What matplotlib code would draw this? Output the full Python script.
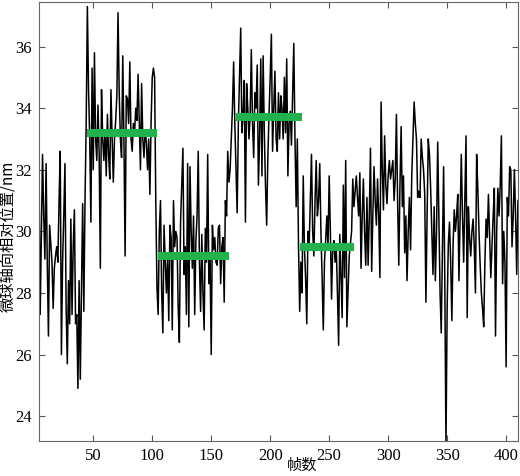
import numpy as np
import matplotlib
matplotlib.use('Agg')
import matplotlib.pyplot as plt

# position trace (frames 4..410)
seg1 = [32.3, 27.3, 30.0, 32.5, 30.5, 29.1, 32.2, 29.0, 26.6, 30.2,
        29.6, 29.0, 27.5, 28.8, 29.2, 29.5, 29.0, 31.0, 32.6, 26.0,
        29.0, 30.5, 32.2, 27.5, 25.7, 28.4, 27.0, 30.4, 27.3, 29.5,
        30.7, 27.0, 27.3, 24.9, 28.4, 25.2, 28.0, 30.9, 27.4, 31.0,
        33.5, 37.3]
seg2 = [34.6, 33.0, 30.3, 35.3, 32.0, 35.8, 33.0, 32.3, 34.1, 32.5,
        28.8, 34.6, 33.0, 32.3, 33.3, 31.8, 33.8, 32.5, 31.7, 34.6,
        33.0, 31.6, 33.0, 33.6, 34.4, 37.1, 34.5, 33.0, 32.4, 35.7,
        33.0, 29.2, 34.4, 34.3, 33.5, 35.5, 33.0, 32.6, 33.5, 33.2,
        34.0, 33.6, 35.1, 33.5, 32.0, 34.8, 33.0, 32.4, 33.3, 32.9,
        32.0, 33.0, 31.2, 33.5, 35.0, 35.3, 35.0, 31.0, 28.2]
seg3 = [27.3, 30.0, 31.0, 28.0, 26.7, 30.2, 29.0, 28.0, 29.2, 27.1,
        30.2, 29.8, 26.8, 31.0, 29.5, 30.0, 29.8, 27.5, 26.4, 30.3,
        31.5, 32.7, 28.6, 29.5, 27.3, 32.2, 26.9, 32.1, 30.0, 28.8,
        30.5, 27.3, 29.7, 30.5, 32.6, 29.0, 27.4, 29.9, 28.0, 26.8,
        30.1, 29.0, 32.5, 28.3, 29.2, 26.0, 30.2, 29.4, 29.8, 29.0,
        28.9, 30.1, 30.2, 28.3, 29.5, 29.8, 27.7, 31.0, 30.5, 32.6, 31.6]
seg4 = [32.0, 33.0, 34.0, 35.5, 33.5, 32.0, 30.6, 33.5, 35.0, 36.6,
        33.2, 33.8, 34.9, 30.3, 34.8, 34.0, 33.0, 33.8, 35.9, 33.5,
        32.4, 34.5, 34.0, 35.4, 31.5, 33.0, 35.6, 31.8, 35.7, 33.2,
        31.5, 30.2, 32.4, 33.8, 35.0, 36.4, 32.6, 34.0, 35.2, 33.0,
        32.6, 34.5, 33.0, 34.4, 34.0, 33.0, 35.0, 33.2, 35.6, 31.8,
        33.5, 33.9, 32.8, 34.5, 36.1, 33.0, 30.8, 33.0, 29.5, 27.4]
seg5 = [29.0, 28.0, 31.8, 29.5, 28.5, 27.0, 30.0, 29.5, 31.0, 32.5,
        30.0, 29.2, 31.0, 32.3, 30.5, 31.0, 32.2, 30.0, 28.5, 26.8,
        29.0, 29.7, 30.5, 29.5, 31.8, 30.0, 27.8, 29.5, 29.7, 29.0,
        29.5, 28.0, 26.3, 29.9, 28.5, 27.2, 31.5, 28.5, 32.3, 26.9,
        28.0, 29.2, 29.6, 30.0, 31.7, 30.8]
seg6 = [31.3, 31.8, 31.1, 30.5, 31.9, 28.8, 30.5, 31.7, 30.0, 28.9,
        31.1, 28.9, 30.5, 32.7, 28.7, 30.5, 32.1, 31.0, 30.2, 31.7,
        30.5, 28.5, 34.2, 32.0, 30.7, 33.1, 31.5, 30.9, 31.8, 32.3,
        31.7, 32.0, 32.3, 31.0, 31.7, 33.8, 31.0, 28.9, 31.5]
seg7 = [33.4, 30.8, 31.8, 29.3, 30.5, 28.4, 30.0, 31.1, 29.4, 31.8,
        33.0, 34.2, 33.5, 33.0, 31.1, 31.3, 31.1, 33.0, 32.4, 32.0,
        31.2, 27.7, 30.5, 33.0, 32.5, 31.4, 30.0, 28.6, 30.8, 28.4,
        30.0, 32.9, 30.5, 28.0, 26.7, 29.5, 32.1, 28.5, 23.0, 27.5,
        29.6, 30.3, 29.0, 27.1, 29.5, 30.7, 30.0, 30.5, 31.2]
seg8 = [28.4, 30.5, 32.5, 30.5, 29.0, 31.0, 33.1, 27.2, 30.8, 29.8,
        29.2, 30.0, 30.4, 29.5, 28.0, 32.5, 31.4, 30.0, 28.9, 28.0,
        27.5, 26.9, 29.0, 30.4, 29.8, 31.2, 29.8, 28.5, 29.5, 30.5,
        31.4, 26.6, 30.0, 31.4, 30.5, 31.5, 33.1, 28.3, 30.0, 29.0,
        25.6, 31.1, 30.5, 32.1, 32.0, 29.5, 30.5, 32.0, 30.5, 28.6, 31.0]

first_frame = 4

# fitted step levels
step_start = [45, 105, 171, 225]
step_end = [104, 165, 227, 271]
step_level = [33.2, 29.2, 33.7, 29.5]

xticks = [50, 100, 150, 200, 250, 300, 350, 400]
yticks = [24, 26, 28, 30, 32, 34, 36]


def main():
    pos = np.array(seg1 + seg2 + seg3 + seg4 + seg5 + seg6 + seg7 + seg8)
    frames = np.arange(first_frame, first_frame + len(pos))

    fig = plt.figure(figsize=(5.2, 4.76), dpi=100)
    ax = fig.add_axes([0.075, 0.074, 0.921, 0.922])

    ax.plot(frames, pos, color='black', lw=1.1)
    for s, e, lv in zip(step_start, step_end, step_level):
        ax.plot([s, e], [lv, lv], color='#22b14c', lw=5.8, solid_capstyle='butt')

    ax.set_xlim(4, 410)
    ax.set_ylim(23.2, 37.45)
    ax.set_xticks(xticks)
    ax.set_yticks(yticks)

    ax.tick_params(direction='in', top=True, right=True, length=4,
                   width=0.8, color='#555555', labelsize=12, pad=5)
    for lab in ax.get_xticklabels() + ax.get_yticklabels():
        lab.set_fontfamily('Liberation Serif')
    for sp in ax.spines.values():
        sp.set_color('#666666')
        sp.set_linewidth(0.8)

    # labels are placed by hand, MATLAB-like positions
    cjk = ['Noto Sans CJK SC', 'DejaVu Sans']
    ax.set_xlabel('帧数', family=cjk, fontsize=11)
    ax.set_ylabel('微球轴向相对位置/nm', family=cjk, fontsize=11)
    ax.xaxis.set_label_coords(0.549, -0.036)
    ax.yaxis.set_label_coords(-0.047, 0.467)

    fig.savefig('out.png', dpi=100)


if __name__ == "__main__":
    main()
